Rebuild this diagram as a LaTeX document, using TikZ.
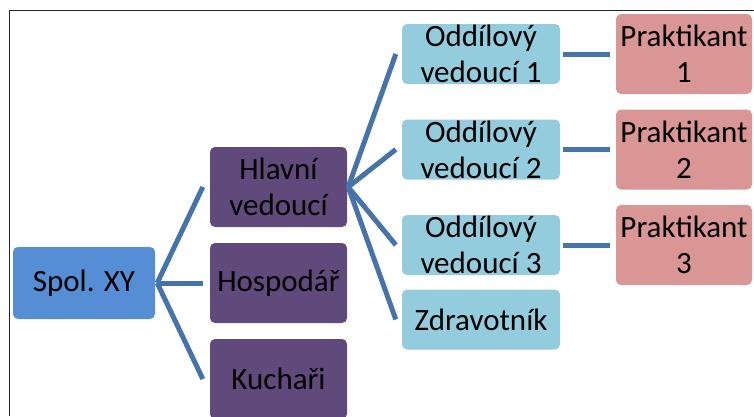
\documentclass[tikz,border=0pt]{standalone}
\usepackage{fontspec}
\setmainfont{Carlito}
\definecolor{rootblue}{HTML}{558ED5}
\definecolor{purplebox}{HTML}{604A7B}
\definecolor{lightbox}{HTML}{93CDDD}
\definecolor{pinkbox}{HTML}{D99694}
\definecolor{linkblue}{HTML}{4673AA}
\begin{document}
\begin{tikzpicture}[x=1pt,y=-1pt,
  box/.style={rectangle, rounded corners=5pt, inner sep=0pt, align=center,
    font=\fontsize{31}{36}\selectfont, text=black},
  rootbox/.style={box, fill=rootblue, minimum width=142pt, minimum height=72pt},
  midbox/.style={box, fill=purplebox, minimum width=137pt, minimum height=80pt},
  oddbox/.style={box, fill=lightbox, minimum width=158pt, minimum height=60pt},
  prakbox/.style={box, fill=pinkbox, minimum width=136pt, minimum height=80pt},
  link/.style={draw=linkblue, line width=5pt}
]
\useasboundingbox (0,0) rectangle (754,416);
\clip (0,0) rectangle (754,416);
\draw[line width=1pt, black!85] (9.5,416) -- (9.5,10) -- (754,10);

\node[rootbox] (spol) at (84,283) {Spol. XY};
\node[midbox] (hlavni) at (278.5,187) {Hlavní\\vedoucí};
\node[midbox] (hosp) at (278.5,283) {Hospodář};
\node[midbox] (kuch) at (278.5,379) {Kuchaři};
\node[oddbox] (odd1) at (481,54) {Oddílový\\vedoucí 1};
\node[oddbox] (odd2) at (481,149.5) {Oddílový\\vedoucí 2};
\node[oddbox] (odd3) at (481,245) {Oddílový\\vedoucí 3};
\node[oddbox] (zdrav) at (481,319.5) {Zdravotník};
\node[prakbox] (prak1) at (684,54) {Praktikant\\1};
\node[prakbox] (prak2) at (684,149.5) {Praktikant\\2};
\node[prakbox] (prak3) at (684,245) {Praktikant\\3};

\coordinate (fa) at ([xshift=2pt]spol.east);
\draw[link] (fa) -- ([xshift=-7pt]hlavni.west);
\draw[link] (fa) -- ([xshift=-7pt]hosp.west);
\draw[link] (fa) -- ([xshift=-7pt]kuch.west);

\coordinate (fb) at ([xshift=1pt]hlavni.east);
\draw[link] (fb) -- ([xshift=-6pt]odd1.west);
\draw[link] (fb) -- ([xshift=-6pt]odd2.west);
\draw[link] (fb) -- ([xshift=-6pt]odd3.west);
\draw[link] (fb) -- ([xshift=-6pt]zdrav.west);

\draw[link] ([xshift=3pt]odd1.east) -- ([xshift=-6pt]prak1.west);
\draw[link] ([xshift=3pt]odd2.east) -- ([xshift=-6pt]prak2.west);
\draw[link] ([xshift=3pt]odd3.east) -- ([xshift=-6pt]prak3.west);
\end{tikzpicture}
\end{document}
